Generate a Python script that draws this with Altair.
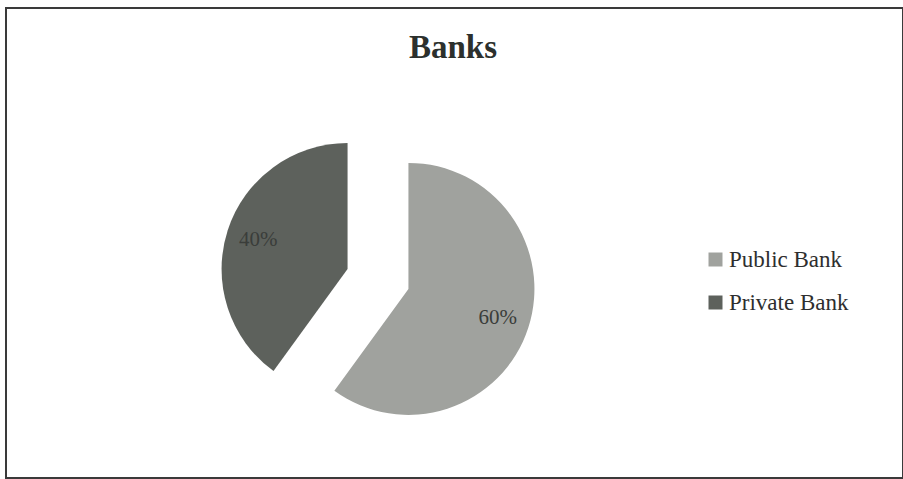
import altair as alt
import pandas as pd

chart_title = "Banks"
categories = ["Public Bank", "Private Bank"]
shares = [60, 40]
labels = ["60%", "40%"]
order = [1, 2]
colors = ["#a0a29e", "#5d615c"]

df = pd.DataFrame({"category": categories, "value": shares, "label": labels, "order": order})
title_df = pd.DataFrame({"title": [chart_title]})

CX, CY = 372, 271      # pie centre inside the view (layout)
EXPLODE = 32           # explosion distance
R = 126                # pie radius
LR = 94                # label radius from slice centre

base = alt.Chart(df).transform_window(
    end="sum(value)", sort=[alt.SortField("order")], frame=[None, 0]
).transform_calculate(
    start="datum.end - datum.value",
    mid="(datum.end - datum.value/2) / 100 * 2 * PI",
).transform_calculate(
    cx=f"{CX} + {EXPLODE} * sin(datum.mid)",
    cy=f"{CY} - {EXPLODE} * cos(datum.mid)",
).transform_calculate(
    lx=f"datum.cx + {LR} * sin(datum.mid)",
    ly=f"datum.cy - {LR} * cos(datum.mid)",
)

color = alt.Color(
    "category:N",
    scale=alt.Scale(domain=categories, range=colors),
    sort=categories,
    legend=alt.Legend(
        title=None,
        orient="none",
        legendX=698,
        legendY=240,
        symbolType="square",
        symbolSize=196,
        symbolStrokeWidth=0,
        labelFont="Liberation Serif",
        labelFontSize=23,
        labelColor="#2e2e2e",
        labelOffset=2,
        rowPadding=19,
        labelLimit=300,
    ),
)

arcs = base.mark_arc(radius=R, stroke=None).encode(
    x=alt.X("cx:Q", scale=None),
    y=alt.Y("cy:Q", scale=None),
    theta=alt.Theta("start:Q", scale=alt.Scale(domain=[0, 100], range=[0, 6.283185307179586])),
    theta2="end:Q",
    color=color,
)

text = base.mark_text(font="Liberation Serif", fontSize=21, color="#3a3d3a").encode(
    x=alt.X("lx:Q", scale=None),
    y=alt.Y("ly:Q", scale=None),
    text="label:N",
)

title = alt.Chart(title_df).mark_text(
    font="Liberation Serif", fontSize=33, fontWeight="bold", color="#2c302d",
    align="center", baseline="alphabetic",
).encode(
    x=alt.value(447),
    y=alt.value(50),
    text="title:N",
)

chart = alt.layer(arcs, text, title).properties(
    width=897,
    height=470,
    padding={"left": 6, "top": 8, "right": 0, "bottom": 1},
    autosize=alt.AutoSizeParams(type="none"),
    background="white",
).configure_view(stroke="#3a3a3a", strokeWidth=2)

chart.save("out.html", embed_options={"renderer": "svg", "actions": False})
